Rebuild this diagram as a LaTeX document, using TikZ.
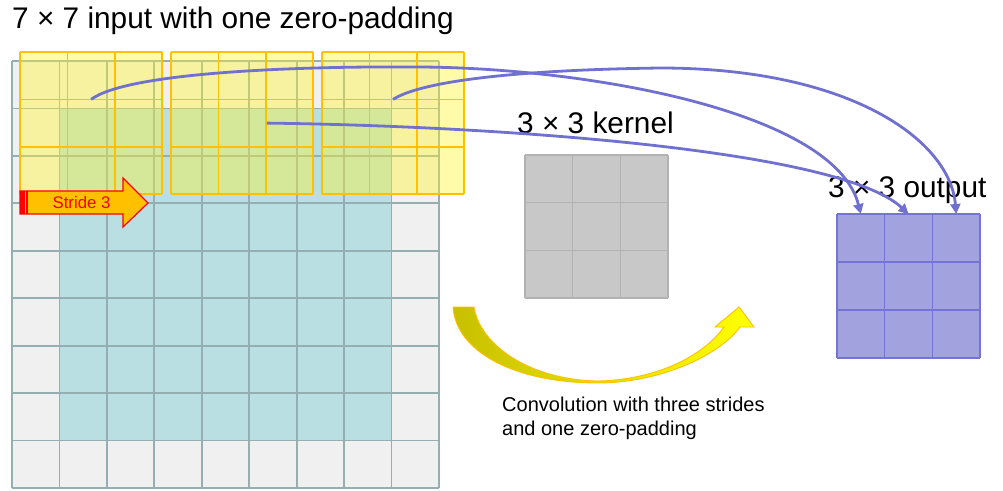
\documentclass[tikz,border=0pt]{standalone}
\usepackage{fontspec}
\setmainfont{Liberation Sans}
\usetikzlibrary{arrows.meta}

\definecolor{padgray}{RGB}{240,240,240}
\definecolor{incyan}{RGB}{185,223,227}
\definecolor{gridedge}{RGB}{148,174,177}
\definecolor{winfill}{RGB}{255,245,40}
\definecolor{winedge}{RGB}{255,192,0}
\definecolor{kerfill}{RGB}{200,200,200}
\definecolor{keredge}{RGB}{178,178,178}
\definecolor{outfill}{RGB}{162,162,223}
\definecolor{outedge}{RGB}{116,116,212}
\definecolor{linkblue}{RGB}{112,112,208}
\definecolor{stridefill}{RGB}{255,192,0}
\definecolor{olivey}{RGB}{200,192,0}
\definecolor{midyel}{RGB}{238,232,0}

\tikzset{
  inline/.style={draw=gridedge, line width=1.8},
  winline/.style={draw=winedge, line width=1.6},
  kerline/.style={draw=keredge, line width=1.5},
  outline/.style={draw=outedge, line width=1.5},
  link/.style={draw=linkblue, line width=2.8, -{Triangle[length=10,width=10]}},
  biglabel/.style={anchor=base west, inner sep=0, font=\fontsize{29.8}{34}\selectfont},
  caption/.style={anchor=base west, inner sep=0, font=\fontsize{20}{24}\selectfont},
}

\begin{document}
\begin{tikzpicture}[x=1pt, y=-1pt]
\useasboundingbox (0,0) rectangle (1003,490);

% ---------------- padded 9x9 input ----------------
\def\cs{47.44}
\fill[padgray] (12,61) rectangle (439,488);
\fill[incyan] (59.44,108.44) rectangle (391.56,440.56);
\foreach \i in {0,...,9} {
  \draw[inline] ({12+\i*\cs},61) -- ({12+\i*\cs},488);
  \draw[inline] (12,{61+\i*\cs}) -- (439,{61+\i*\cs});
}

% ---------------- three 3x3 windows (stride 3) ----------------
\def\ws{47.4}
\foreach \x in {20,171,322} {
  \fill[winfill, fill opacity=0.4] (\x,52) rectangle +(142.2,142.2);
  \foreach \k in {0,...,3} {
    \draw[winline] ({\x+\k*\ws},52) -- +(0,142.2);
    \draw[winline] (\x,{52+\k*\ws}) -- +(142.2,0);
  }
}
\coordinate (win1) at (91.1,99.4);
\coordinate (win2) at (266.8,123.1);
\coordinate (win3) at (393.1,99.4);

% ---------------- kernel ----------------
\fill[kerfill] (525,155) rectangle (668,298);
\foreach \k in {0,...,3} {
  \draw[kerline] ({525+\k*47.67},155) -- ({525+\k*47.67},298);
  \draw[kerline] (525,{155+\k*47.67}) -- (668,{155+\k*47.67});
}

% ---------------- output ----------------
\fill[outfill] (837,214) rectangle (980,358);
\foreach \k in {0,...,3} {
  \draw[outline] ({837+\k*47.67},214) -- ({837+\k*47.67},358);
  \draw[outline] (837,{214+\k*48}) -- (980,{214+\k*48});
}
\coordinate (out1) at (860.8,214);
\coordinate (out2) at (908.5,214);
\coordinate (out3) at (956.2,214);

% ---------------- labels ----------------
\node[biglabel] (title) at (12,28) {7 × 7 input with one zero-padding};
\node[biglabel] (kerlabel) at (517,133) {3 × 3 kernel};
\node[biglabel] (outlabel) at (828,197) {3 × 3 output};

% ---------------- window -> output links ----------------
\draw[link] (win1) .. controls (128,72) and (300,66) .. (420,67)
                   .. controls (590,68) and (835,112) .. (out1);
\draw[link] (win3) .. controls (420,82) and (510,70) .. (660,68)
                   .. controls (850,68) and (950,140) .. (out3);
\draw[link] (win2) .. controls (500,126) and (840,150) .. (out2);

% ---------------- stride arrow ----------------
\filldraw[fill=stridefill, draw=red, line width=1.2]
  (20,191) -- (123,191) -- (123,178) -- (148,203) -- (123,227) -- (123,214) -- (20,214) -- cycle;
\fill[red] (20,191) rectangle (24.5,214);
\fill[red] (26,191) rectangle (28.2,214);
\node[text=red, inner sep=0, font=\fontsize{16.8}{18}\selectfont] (stride) at (81.5,202.5) {Stride 3};

% ---------------- curved convolution arrow ----------------
\shadedraw[left color=olivey, middle color=midyel, right color=yellow, draw=winedge, line width=0.9]
  (453,307) .. controls (456,352) and (515,383) .. (598,383)
            .. controls (660,383) and (720,355) .. (740,327)
  -- (754,327) -- (739,307) -- (715,327) -- (724,327)
            .. controls (700,360) and (650,380) .. (598,381)
            .. controls (530,380) and (480,345) .. (474,307) -- cycle;

\node[caption] (cap1) at (502,411) {Convolution with three strides};
\node[caption] (cap2) at (502,435) {and one zero-padding};
\end{tikzpicture}
\end{document}
